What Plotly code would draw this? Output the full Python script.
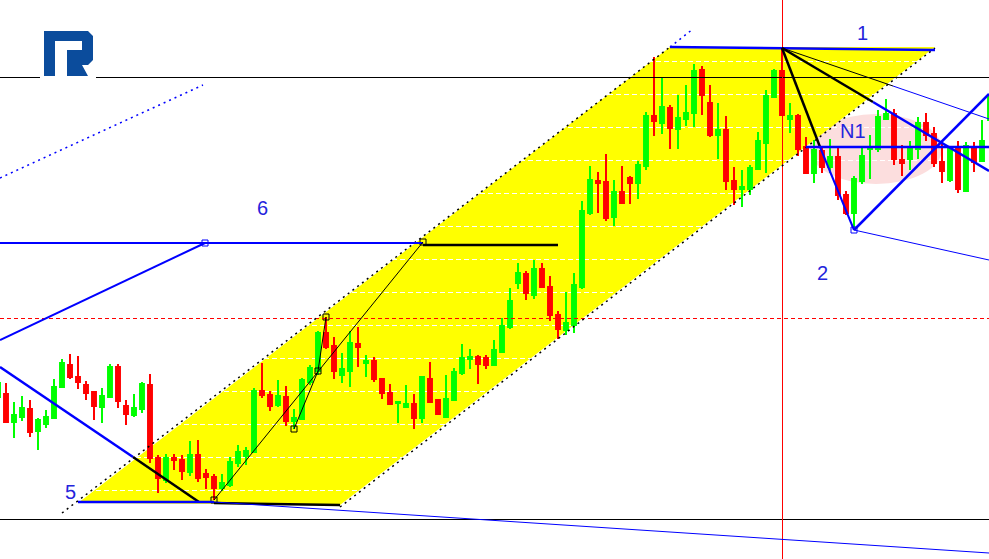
import plotly.graph_objects as go

# ---------------- data ----------------
bars = list(range(-1, 124))

open_ = [
    1.1203, 1.1206, 1.1178, 1.1183, 1.1191, 1.1169, 1.1176, 1.1182, 1.1213, 1.1235,
    1.1223, 1.1215, 1.1208, 1.1193, 1.1203, 1.1233, 1.1194, 1.1185, 1.1191, 1.1215,
    1.1142, 1.1120, 1.1142, 1.1140, 1.1128, 1.1145, 1.1126, 1.1123, 1.1112, 1.1115,
    1.1137, 1.1144, 1.1148, 1.1209, 1.1205, 1.1195, 1.1203, 1.1179, 1.1181, 1.1218,
    1.1229, 1.1267, 1.1254, 1.1225, 1.1229, 1.1256, 1.1237, 1.1239, 1.1221, 1.1207,
    1.1197, 1.1193, 1.1196, 1.1182, 1.1221, 1.1200, 1.1183, 1.1200, 1.1227, 1.1241,
    1.1243, 1.1242, 1.1235, 1.1248, 1.1273, 1.1317, 1.1326, 1.1305, 1.1331, 1.1313,
    1.1285, 1.1270, 1.1275, 1.1313, 1.1387, 1.1419, 1.1418, 1.1383, 1.1408, 1.1422,
    1.1417, 1.1434, 1.1484, 1.1477, 1.1492, 1.1471, 1.1481, 1.1487, 1.1530, 1.1497,
    1.1465, 1.1470, 1.1419, 1.1411, 1.1411, 1.1431, 1.1457, 1.1503, 1.1529, 1.1481,
    1.1484, 1.1453, 1.1427, 1.1449, 1.1433, 1.1443, 1.1405, 1.1387, 1.1419, 1.1451,
    1.1451, 1.1481, 1.1486, 1.1440, 1.1441, 1.1451, 1.1477, 1.1466, 1.1438, 1.1420,
    1.1451, 1.1409, 1.1453, 1.1439, 1.1480,
]
high_ = [
    1.1217, 1.1217, 1.1198, 1.1204, 1.1200, 1.1182, 1.1190, 1.1221, 1.1241, 1.1246,
    1.1244, 1.1219, 1.1208, 1.1212, 1.1236, 1.1236, 1.1200, 1.1206, 1.1218, 1.1226,
    1.1145, 1.1146, 1.1146, 1.1145, 1.1159, 1.1160, 1.1131, 1.1126, 1.1126, 1.1143,
    1.1155, 1.1153, 1.1212, 1.1237, 1.1209, 1.1220, 1.1214, 1.1191, 1.1222, 1.1235,
    1.1269, 1.1283, 1.1263, 1.1247, 1.1269, 1.1273, 1.1245, 1.1243, 1.1221, 1.1216,
    1.1198, 1.1215, 1.1206, 1.1224, 1.1238, 1.1200, 1.1225, 1.1232, 1.1256, 1.1251,
    1.1245, 1.1245, 1.1260, 1.1282, 1.1312, 1.1337, 1.1329, 1.1340, 1.1337, 1.1324,
    1.1289, 1.1308, 1.1327, 1.1399, 1.1434, 1.1428, 1.1446, 1.1420, 1.1434, 1.1424,
    1.1439, 1.1488, 1.1543, 1.1523, 1.1495, 1.1505, 1.1515, 1.1536, 1.1534, 1.1515,
    1.1497, 1.1484, 1.1433, 1.1430, 1.1435, 1.1468, 1.1510, 1.1531, 1.1552, 1.1497,
    1.1486, 1.1463, 1.1460, 1.1453, 1.1461, 1.1452, 1.1409, 1.1424, 1.1453, 1.1465,
    1.1490, 1.1501, 1.1491, 1.1455, 1.1459, 1.1483, 1.1487, 1.1473, 1.1458, 1.1453,
    1.1459, 1.1458, 1.1458, 1.1480, 1.1508,
]
low_ = [
    1.1202, 1.1177, 1.1162, 1.1179, 1.1163, 1.1150, 1.1172, 1.1181, 1.1212, 1.1221,
    1.1211, 1.1200, 1.1180, 1.1177, 1.1203, 1.1192, 1.1175, 1.1183, 1.1187, 1.1137,
    1.1107, 1.1117, 1.1130, 1.1120, 1.1124, 1.1118, 1.1111, 1.1100, 1.1109, 1.1113,
    1.1133, 1.1135, 1.1147, 1.1202, 1.1189, 1.1193, 1.1174, 1.1171, 1.1180, 1.1215,
    1.1225, 1.1251, 1.1221, 1.1217, 1.1213, 1.1233, 1.1223, 1.1218, 1.1201, 1.1196,
    1.1177, 1.1193, 1.1171, 1.1177, 1.1197, 1.1185, 1.1183, 1.1199, 1.1225, 1.1231,
    1.1216, 1.1231, 1.1235, 1.1248, 1.1271, 1.1311, 1.1300, 1.1301, 1.1313, 1.1279,
    1.1261, 1.1265, 1.1267, 1.1311, 1.1385, 1.1387, 1.1379, 1.1374, 1.1396, 1.1396,
    1.1401, 1.1430, 1.1464, 1.1466, 1.1451, 1.1451, 1.1474, 1.1473, 1.1485, 1.1463,
    1.1441, 1.1410, 1.1395, 1.1393, 1.1405, 1.1430, 1.1427, 1.1502, 1.1484, 1.1467,
    1.1444, 1.1427, 1.1417, 1.1427, 1.1427, 1.1400, 1.1385, 1.1370, 1.1416, 1.1421,
    1.1448, 1.1480, 1.1435, 1.1424, 1.1430, 1.1441, 1.1459, 1.1433, 1.1417, 1.1418,
    1.1407, 1.1409, 1.1428, 1.1438, 1.1479,
]
close_ = [
    1.1217, 1.1178, 1.1185, 1.1192, 1.1168, 1.1180, 1.1183, 1.1213, 1.1237, 1.1223,
    1.1218, 1.1207, 1.1194, 1.1204, 1.1233, 1.1199, 1.1186, 1.1192, 1.1216, 1.1142,
    1.1122, 1.1142, 1.1140, 1.1129, 1.1145, 1.1122, 1.1123, 1.1112, 1.1117, 1.1138,
    1.1148, 1.1149, 1.1209, 1.1205, 1.1194, 1.1204, 1.1179, 1.1182, 1.1220, 1.1232,
    1.1267, 1.1253, 1.1229, 1.1231, 1.1257, 1.1253, 1.1239, 1.1221, 1.1207, 1.1196,
    1.1198, 1.1196, 1.1182, 1.1223, 1.1198, 1.1186, 1.1201, 1.1228, 1.1242, 1.1243,
    1.1236, 1.1235, 1.1250, 1.1274, 1.1299, 1.1327, 1.1307, 1.1331, 1.1313, 1.1285,
    1.1271, 1.1277, 1.1315, 1.1389, 1.1420, 1.1417, 1.1382, 1.1408, 1.1397, 1.1417,
    1.1435, 1.1484, 1.1479, 1.1493, 1.1472, 1.1482, 1.1487, 1.1529, 1.1505, 1.1465,
    1.1470, 1.1419, 1.1411, 1.1413, 1.1432, 1.1459, 1.1504, 1.1529, 1.1485, 1.1484,
    1.1451, 1.1427, 1.1450, 1.1433, 1.1443, 1.1405, 1.1387, 1.1421, 1.1444, 1.1453,
    1.1483, 1.1486, 1.1441, 1.1437, 1.1451, 1.1477, 1.1465, 1.1437, 1.1429, 1.1451,
    1.1411, 1.1454, 1.1438, 1.1459, 1.1505,
]

# horizontal levels
level_top = 1.15225
level_bottom = 1.10805
level_red = 1.12815
marker_bar = 97.0625

# yellow channel corners (bar, price)
channel = [(9, 1.1097), (83, 1.1553), (116.125, 1.1553), (41.75, 1.1095)]

# pink zone (bar0, bar1, price0, price1)
zone_n1 = (100.5, 117.0, 1.1416, 1.1486)

BLUE = "#0000ff"
BLACK = "#000000"
# trend lines: (bar0, price0, bar1, price1, color, width, dash)
trend_lines = [
    (7, 1.1087, 83, 1.1553, BLACK, 1.5, "2px,4px"),
    (83, 1.1553, 85.875, 1.1571, BLUE, 1.5, "2px,4px"),
    (41.75, 1.1093, 116.125, 1.1552, BLACK, 1.5, "2px,4px"),
    (-0.75, 1.1422, 24.625, 1.1515, BLUE, 1.5, "2px,4px"),
    (-0.75, 1.1260, 24.875, 1.1357, BLUE, 2, "solid"),
    (-0.75, 1.1357, 52.125, 1.1357, BLUE, 2, "solid"),
    (52.125, 1.1355, 69, 1.1355, BLACK, 2.5, "solid"),
    (-0.75, 1.1233, 15.875, 1.1143, BLUE, 2.5, "solid"),
    (15.875, 1.1143, 24.125, 1.1098, BLACK, 2.5, "solid"),
    (26, 1.1100, 52.125, 1.1358, BLACK, 1, "solid"),
    (36, 1.1171, 39, 1.1229, BLACK, 1, "solid"),
    (39, 1.1229, 40, 1.1283, BLACK, 1, "solid"),
    (9, 1.1098, 26, 1.1098, BLUE, 2.5, "solid"),
    (26, 1.1097, 41.75, 1.1095, BLACK, 2.5, "solid"),
    (26, 1.1098, 122.875, 1.1047, BLUE, 1, "solid"),
    (83, 1.1553, 116.125, 1.1550, BLUE, 2.5, "solid"),
    (97, 1.1552, 101.75, 1.1453, BLACK, 2.5, "solid"),
    (97, 1.1552, 108.375, 1.1498, BLACK, 2.5, "solid"),
    (108.375, 1.1498, 122.875, 1.1429, BLUE, 2.5, "solid"),
    (97, 1.1552, 110.875, 1.1514, BLACK, 1, "solid"),
    (110.875, 1.1514, 122.875, 1.1481, BLUE, 1, "solid"),
    (101.75, 1.1453, 106, 1.1370, BLUE, 2, "solid"),
    (106, 1.1370, 122.875, 1.1506, BLUE, 2.5, "solid"),
    (106, 1.1370, 122.875, 1.1340, BLUE, 1, "solid"),
    (100, 1.1453, 122.875, 1.1453, BLUE, 2.5, "solid"),
]

# anchor points of the drawings
anchor_x = [24.875, 52.125, 26, 40, 36, 39, 106]
anchor_y = [1.1357, 1.1358, 1.1100, 1.1283, 1.1171, 1.1229, 1.1370]
anchor_c = [BLUE, BLACK, BLACK, BLACK, BLACK, BLACK, BLUE]

# labels
label_text = ["1", "2", "5", "6", "N1"]
label_x = [107, 102, 8, 32, 105.875]
label_y = [1.1567, 1.1327, 1.1108, 1.1392, 1.1469]

X_RANGE = [-0.75, 122.875]
Y_RANGE = [1.1041, 1.1600]

# ---------------- figure ----------------
fig = go.Figure()

fig.add_trace(go.Candlestick(
    x=bars, open=open_, high=high_, low=low_, close=close_,
    increasing=dict(line=dict(color="#00ff00", width=2), fillcolor="#00ff00"),
    decreasing=dict(line=dict(color="#ff0000", width=2), fillcolor="#ff0000"),
    whiskerwidth=0, showlegend=False, hoverinfo="skip",
))

fig.add_trace(go.Scatter(
    x=anchor_x, y=anchor_y, mode="markers", showlegend=False, hoverinfo="skip",
    marker=dict(symbol="square-open", size=6, color=anchor_c, line=dict(width=1)),
))

shapes = []
# pink zone and yellow channel, below the grid
shapes.append(dict(type="circle", xref="x", yref="y",
                   x0=zone_n1[0], x1=zone_n1[1], y0=zone_n1[2], y1=zone_n1[3],
                   fillcolor="#fcdede", line=dict(width=0), layer="below"))
path = "M " + " L ".join(f"{b},{p}" for b, p in channel) + " Z"
shapes.append(dict(type="path", xref="x", yref="y", path=path,
                   fillcolor="#ffff00", line=dict(width=0), layer="below"))

# horizontal levels
for lvl, col, dash in [(level_top, BLACK, "solid"), (level_bottom, BLACK, "solid"),
                       (level_red, "#ff0000", "4px,3px")]:
    shapes.append(dict(type="line", xref="paper", yref="y", x0=0, x1=1, y0=lvl, y1=lvl,
                       line=dict(color=col, width=1, dash=dash), layer="above"))
# vertical marker
shapes.append(dict(type="line", xref="x", yref="paper", x0=marker_bar, x1=marker_bar,
                   y0=0, y1=1, line=dict(color="#ff0000", width=1), layer="above"))

for b0, p0, b1, p1, col, w, dash in trend_lines:
    shapes.append(dict(type="line", xref="x", yref="y", x0=b0, y0=p0, x1=b1, y1=p1,
                       line=dict(color=col, width=w, dash=dash), layer="above"))

# logo (drawn in pixels from the top-left corner)
shapes.append(dict(type="rect", xref="paper", yref="paper", xsizemode="pixel",
                   ysizemode="pixel", xanchor=0, yanchor=1, x0=40, x1=96, y0=-28, y1=-80,
                   fillcolor="white", line=dict(width=0), layer="above"))
logo_pts = [(44, 31), (88, 31), (93, 36), (93, 60), (88, 65), (82, 65), (88, 76),
            (67, 76), (67, 50), (82, 50), (82, 41), (55, 41), (55, 76), (44, 76)]
logo_path = "M " + " L ".join(f"{a},{-b}" for a, b in logo_pts) + " Z"
shapes.append(dict(type="path", xref="paper", yref="paper", xsizemode="pixel",
                   ysizemode="pixel", xanchor=0, yanchor=1, path=logo_path,
                   fillcolor="#0b4c9c", line=dict(width=0), layer="above"))

annotations = [dict(x=x, y=y, text=t, xref="x", yref="y", showarrow=False,
                    font=dict(family="Arial, Liberation Sans", size=20, color="#2424dc"))
               for t, x, y in zip(label_text, label_x, label_y)]

fig.update_layout(
    width=989, height=559,
    margin=dict(l=0, r=0, t=0, b=0),
    paper_bgcolor="white", plot_bgcolor="white",
    shapes=shapes, annotations=annotations,
    boxgap=0.3,
    showlegend=False,
    xaxis=dict(range=X_RANGE, showgrid=False, zeroline=False, showticklabels=False,
               showline=False, ticks="", rangeslider=dict(visible=False), fixedrange=True),
    yaxis=dict(range=Y_RANGE, showgrid=True, gridcolor="white", griddash="5px,3px",
               gridwidth=1, tick0=1.1110, dtick=0.0033, zeroline=False,
               showticklabels=False, showline=False, ticks="", fixedrange=True),
)

fig.write_html("out.html", config={"displayModeBar": False},
               post_script="document.body.style.margin='0';")
